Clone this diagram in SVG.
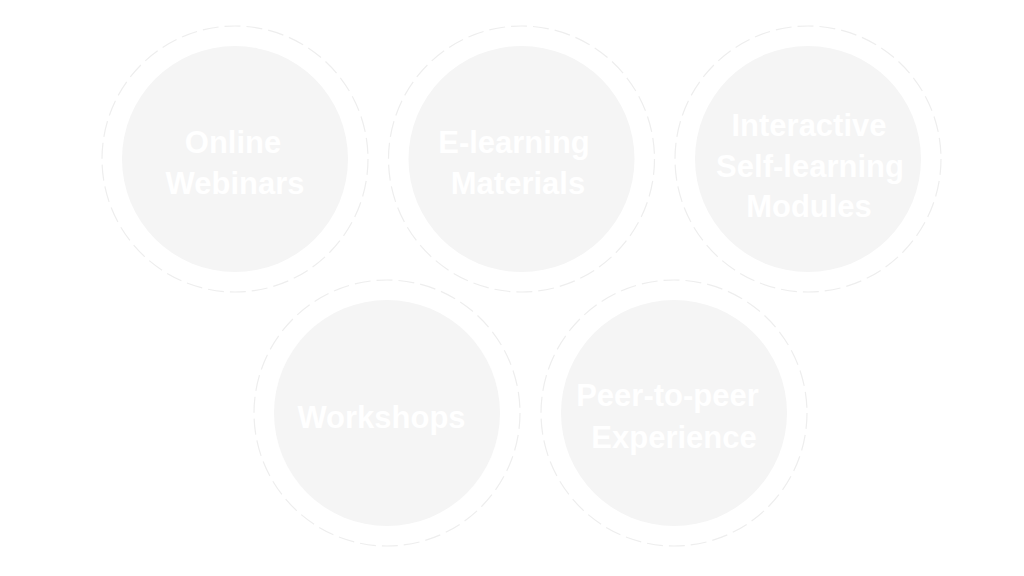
<svg xmlns="http://www.w3.org/2000/svg" width="1024" height="576" viewBox="0 0 1024 576">
<style>
.ring{fill:none;stroke:#eeeeee;stroke-width:1.2;stroke-dasharray:16 6}
.disc{fill:#f5f5f5}
.lbl{font-family:"Liberation Sans",Arial,sans-serif;font-weight:bold;font-size:31px;fill:#ffffff;text-anchor:middle}
</style>
<rect width="1024" height="576" fill="#ffffff"/>
<g id="connectors"></g>
<g id="node-online-webinars">
<circle class="ring" cx="235" cy="159" r="133"/>
<circle class="disc" cx="235" cy="159" r="113"/>
<text class="lbl" x="233" y="153">Online</text>
<text class="lbl" x="235" y="194">Webinars</text>
</g>
<g id="node-elearning-materials">
<circle class="ring" cx="521.5" cy="159" r="133"/>
<circle class="disc" cx="521.5" cy="159" r="113"/>
<text class="lbl" x="514" y="153">E-learning</text>
<text class="lbl" x="518" y="194">Materials</text>
</g>
<g id="node-interactive-modules">
<circle class="ring" cx="808" cy="159" r="133"/>
<circle class="disc" cx="808" cy="159" r="113"/>
<text class="lbl" x="809" y="136">Interactive</text>
<text class="lbl" x="810" y="177">Self-learning</text>
<text class="lbl" x="809" y="217">Modules</text>
</g>
<g id="node-workshops">
<circle class="ring" cx="387" cy="413" r="133"/>
<circle class="disc" cx="387" cy="413" r="113"/>
<text class="lbl" x="381.5" y="428">Workshops</text>
</g>
<g id="node-peer-experience">
<circle class="ring" cx="674" cy="413" r="133"/>
<circle class="disc" cx="674" cy="413" r="113"/>
<text class="lbl" x="667.5" y="406">Peer-to-peer</text>
<text class="lbl" x="674" y="448">Experience</text>
</g>
</svg>
